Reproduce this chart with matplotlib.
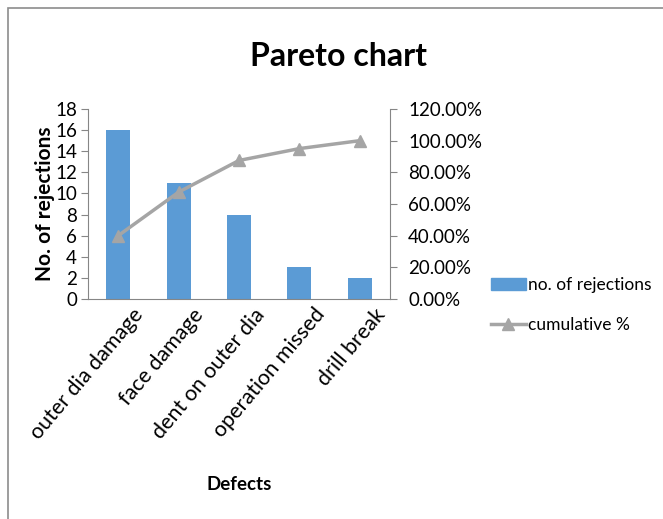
import numpy as np
import matplotlib
matplotlib.use("Agg")
import matplotlib.pyplot as plt
from matplotlib.patches import Rectangle
from matplotlib.ticker import PercentFormatter
from matplotlib.lines import Line2D
from matplotlib.transforms import ScaledTranslation

plt.rcParams['font.family'] = ['Lato', 'DejaVu Sans']

defects = ["outer dia damage", "face damage", "dent on outer dia", "operation missed", "drill break"]
rejections = [16, 11, 8, 3, 2]
cumulative_pct = [40.0, 67.5, 87.5, 95.0, 100.0]

bar_color = "#5B9BD5"
line_color = "#A5A5A5"
axis_color = "#868686"

fig = plt.figure(figsize=(6.63, 5.19), dpi=100)

# chart area border (left and top edges visible)
fig.patches.append(Rectangle((8 / 663, -0.1), 1.2, 1 - 8 / 519 + 0.1,
                             transform=fig.transFigure, fill=False,
                             edgecolor="#8C8C8C", linewidth=1.2))

ax = fig.add_axes([88 / 663, 1 - 299 / 519, (390 - 88) / 663, (299 - 109) / 519])
x = np.arange(len(defects))
ax.bar(x, rejections, width=0.4, color=bar_color, zorder=2)
ax.set_xlim(-0.5, len(defects) - 0.5)
ax.set_ylim(0, 18)
ax.set_yticks(range(0, 19, 2))
ax.set_xticks(x)
ax.set_xticklabels(defects, rotation=50, ha="right", rotation_mode="anchor", fontsize=15.5)
ax.tick_params(axis="x", length=0, pad=4)
# nudge the slanted category labels to the right
shift = ScaledTranslation(14 / 100, 0, fig.dpi_scale_trans)
for lbl in ax.get_xticklabels():
    lbl.set_transform(lbl.get_transform() + shift)
ax.tick_params(axis="y", labelsize=13.5, length=5, color=axis_color, pad=3)
for side in ["top", "right"]:
    ax.spines[side].set_visible(False)
for side in ["left", "bottom"]:
    ax.spines[side].set_color(axis_color)
ax.set_ylabel("No. of rejections", fontsize=15, fontweight="bold", labelpad=0)
ax.set_xlabel("Defects", fontsize=13.5, fontweight="bold", labelpad=24)

ax2 = ax.twinx()
ax2.plot(x, cumulative_pct, color=line_color, linewidth=2.5, marker="^",
         markersize=8, zorder=3)
ax2.set_ylim(0, 120)
ax2.set_yticks(range(0, 121, 20))
ax2.yaxis.set_major_formatter(PercentFormatter(decimals=2))
ax2.tick_params(axis="y", labelsize=13.5, length=5, color=axis_color, pad=8)
for side in ["top", "left", "bottom"]:
    ax2.spines[side].set_visible(False)
ax2.spines["right"].set_color(axis_color)

fig.text(339 / 663, 1 - 56 / 519, "Pareto chart", ha="center", va="center",
         fontsize=23, fontweight="bold")

handles = [Rectangle((0, 0), 1, 1, color=bar_color),
           Line2D([], [], color=line_color, linewidth=2.5, marker="^", markersize=8)]
fig.legend(handles, ["no. of rejections", "cumulative %"], loc="upper left",
           bbox_to_anchor=(484 / 663, 1 - 270 / 519), frameon=False,
           fontsize=12.5, handlelength=2.0, labelspacing=1.4, handletextpad=0.15,
           borderaxespad=0)

fig.savefig("out.png", dpi=100, facecolor="white")
